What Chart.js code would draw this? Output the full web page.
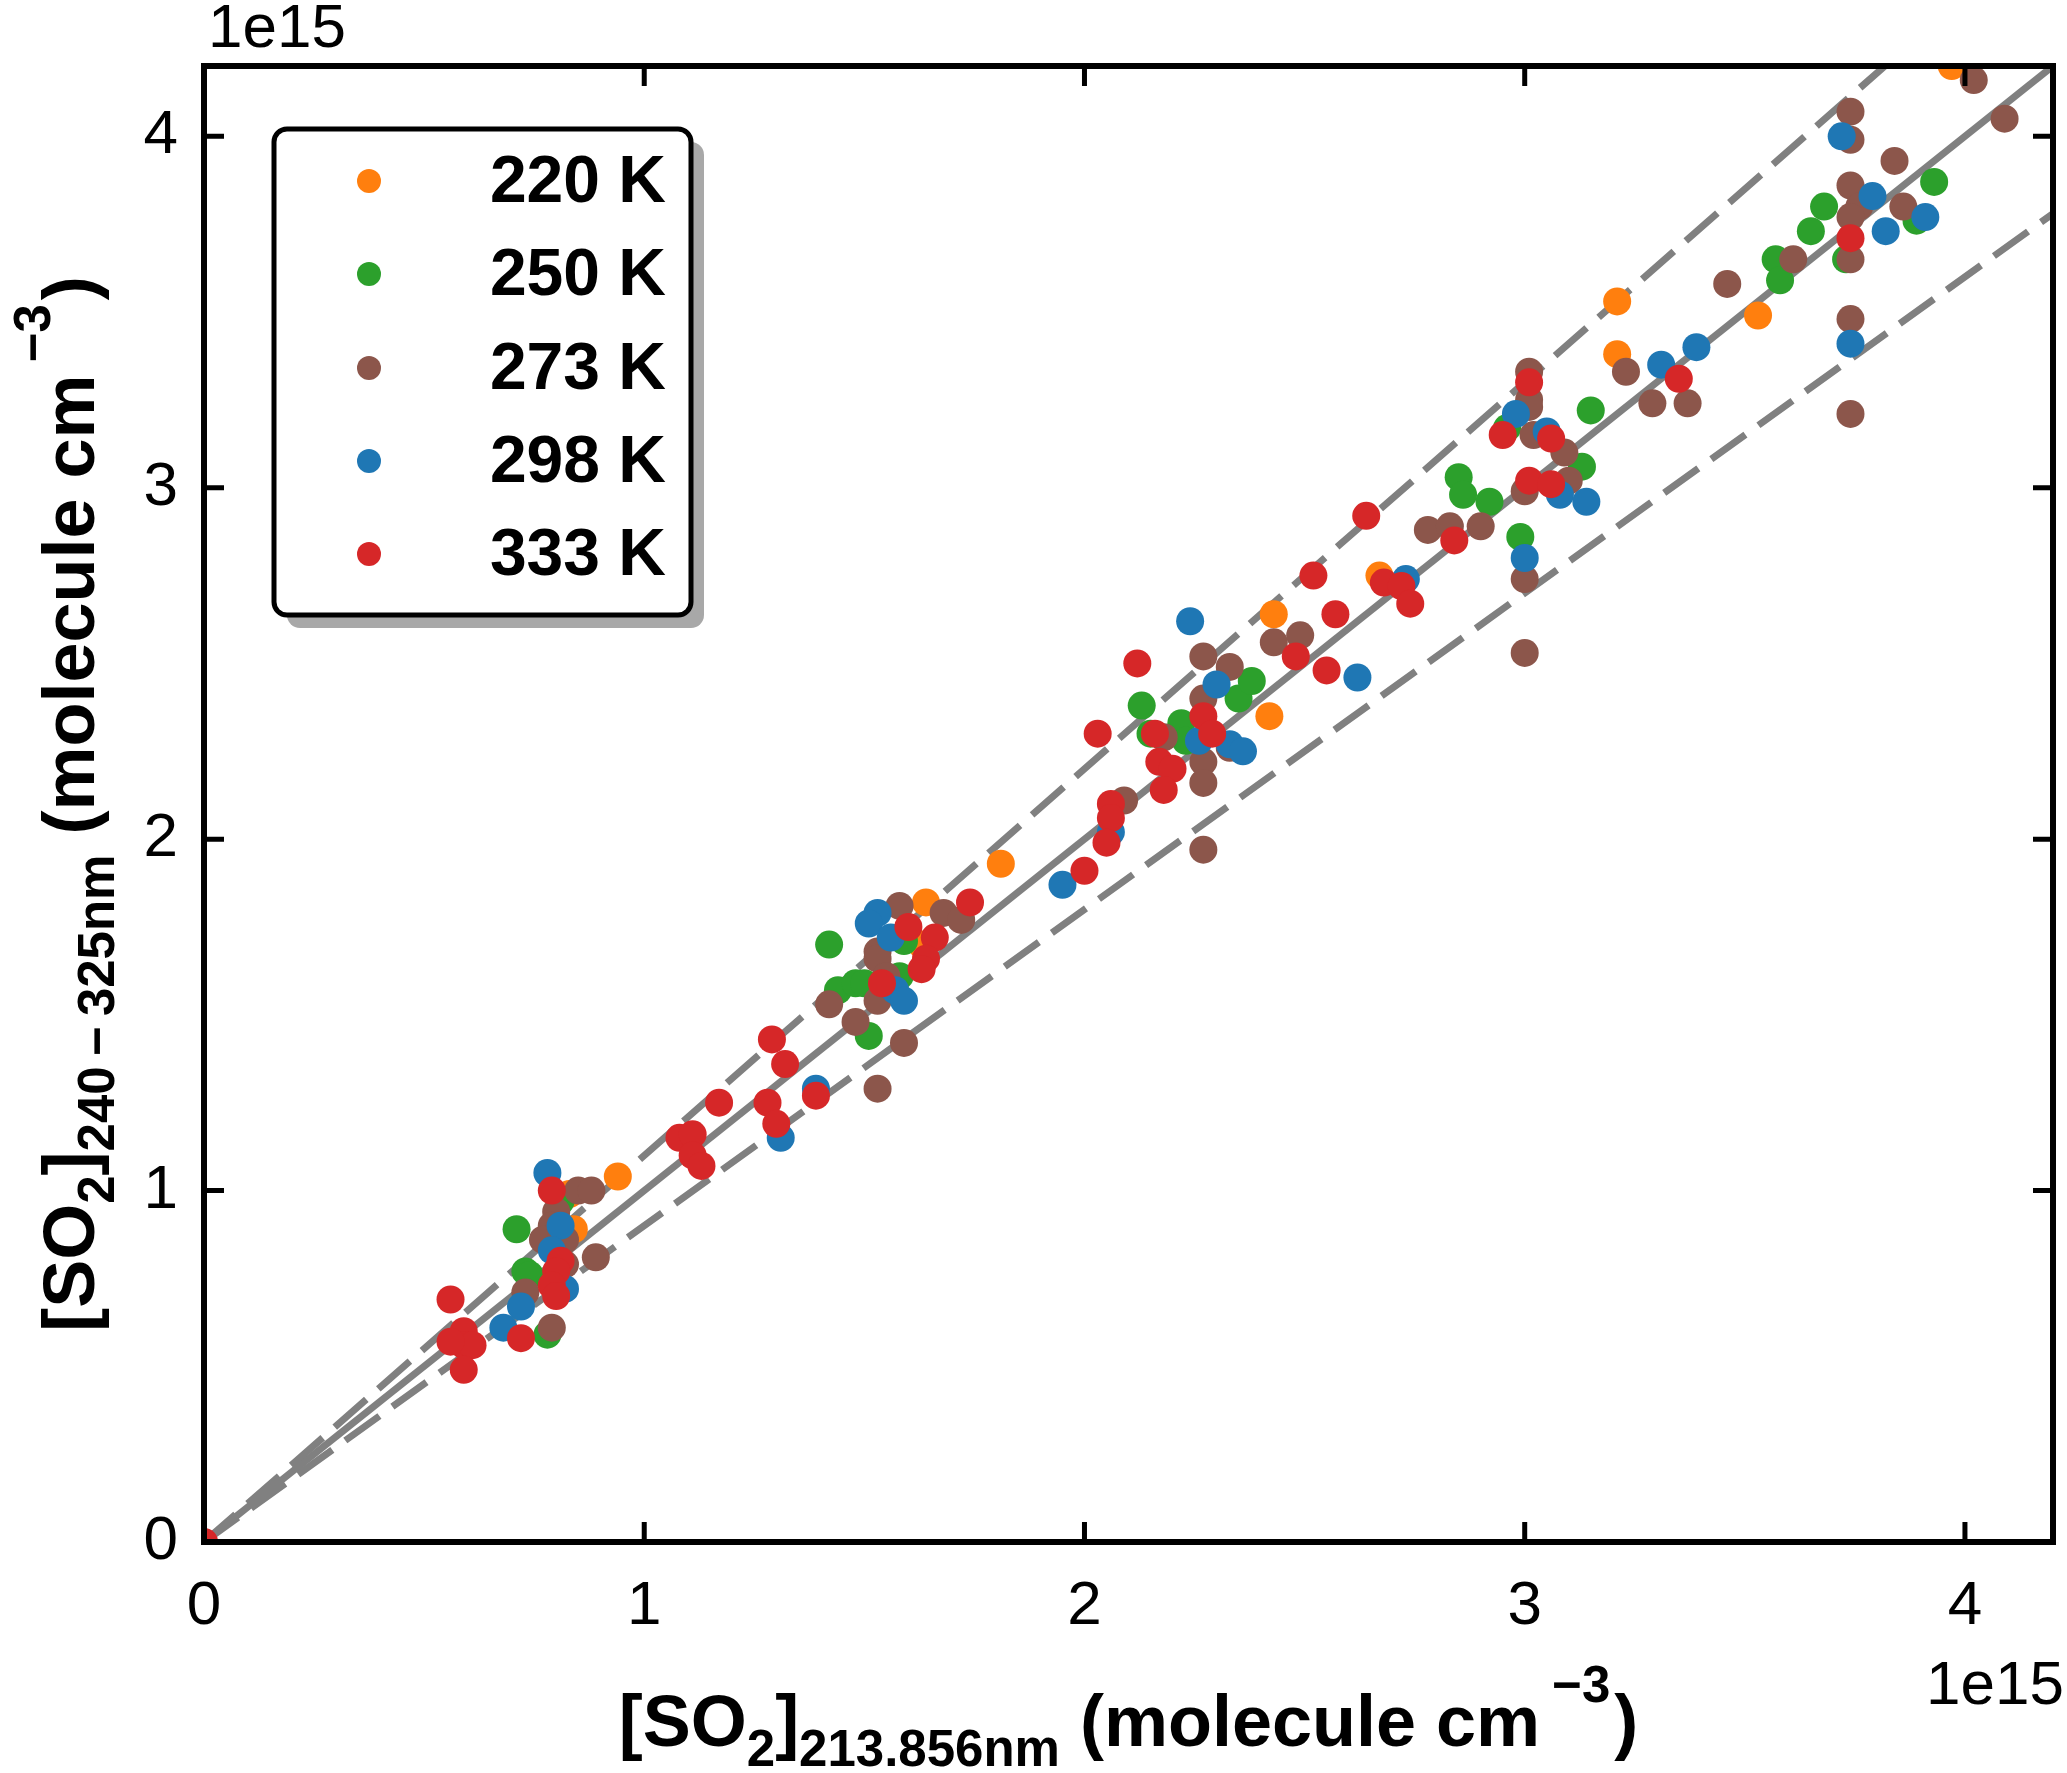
<!DOCTYPE html>
<html>
<head>
<meta charset="utf-8">
<script src="https://cdn.jsdelivr.net/npm/chart.js@4.4.1/dist/chart.umd.min.js"></script>
<style>
  html, body { margin: 0; padding: 0; background: #fff; }
  #wrap { width: 2067px; height: 1773px; position: relative; }
</style>
</head>
<body>
<div id="wrap"><canvas id="myChart"></canvas></div>
<script>
// values in units of 1e15 molecule cm-3
const xTicks = [0, 1, 2, 3, 4];
const yTicks = [0, 1, 2, 3, 4];
const temps = ['220 K', '250 K', '273 K', '298 K', '333 K'];
const colors = ['#ff7f0e', '#2ca02c', '#8c564b', '#1f77b4', '#d62728'];

const x220 = [0.94, 0.84, 0.83, 1.63, 1.64, 1.81, 2.42, 2.43, 2.67, 3.21, 3.21, 3.53, 3.97];
const y220 = [1.04, 0.89, 0.99, 1.70, 1.82, 1.93, 2.35, 2.64, 2.75, 3.38, 3.53, 3.49, 4.20];

const x250 = [0.81, 0.71, 0.73, 0.74, 0.78, 1.42, 1.44, 1.48, 1.50, 1.58, 1.59, 1.51,
  2.13, 2.15, 2.22, 2.23, 2.35, 2.38, 2.85, 2.86, 2.92, 2.96, 2.99, 3.13, 3.15,
  3.93, 3.89, 3.68, 3.65, 3.73, 3.57, 3.58];
const y250 = [0.97, 0.89, 0.77, 0.76, 0.59, 1.70, 1.57, 1.59, 1.59, 1.61, 1.71, 1.44,
  2.38, 2.30, 2.33, 2.28, 2.40, 2.45, 3.03, 2.98, 2.96, 3.17, 2.86, 3.06, 3.22,
  3.87, 3.76, 3.80, 3.73, 3.65, 3.65, 3.59];

const x273 = [0.85, 0.88, 0.80, 0.79, 0.77, 0.82, 0.89, 0.73, 0.82, 0.79,
  1.58, 1.68, 1.72, 1.53, 1.53, 1.42, 1.48, 1.53, 1.59, 1.53, 1.55,
  2.27, 2.33, 2.27, 2.43, 2.49, 2.27, 2.27, 2.09, 2.18, 2.27, 2.33,
  2.78, 2.83, 2.90, 3.01, 3.01, 3.01, 3.02, 3.09, 3.10, 3.00, 3.00, 3.00, 3.23, 3.29, 3.37,
  4.02, 4.09, 3.74, 3.74, 3.84, 3.74, 3.76, 3.74, 3.86, 3.74, 3.61, 3.74, 3.74, 3.46];
const y273 = [1.00, 1.00, 0.94, 0.90, 0.86, 0.86, 0.81, 0.71, 0.79, 0.61,
  1.81, 1.79, 1.77, 1.68, 1.66, 1.53, 1.48, 1.54, 1.42, 1.29, 1.61,
  2.52, 2.49, 2.40, 2.56, 2.58, 2.22, 2.16, 2.11, 2.29, 1.97, 2.26,
  2.88, 2.89, 2.89, 3.33, 3.25, 3.23, 3.15, 3.10, 3.02, 2.99, 2.74, 2.53, 3.33, 3.24, 3.24,
  4.16, 4.05, 4.07, 3.99, 3.93, 3.86, 3.80, 3.77, 3.80, 3.65, 3.65, 3.48, 3.21, 3.58];

const x298 = [0.78, 0.81, 0.79, 0.82, 0.72, 0.68, 1.53, 1.51, 1.56, 1.57, 1.59, 1.39, 1.31,
  2.24, 2.30, 2.26, 2.33, 2.36, 2.06, 1.95,
  2.62, 2.73, 2.98, 3.05, 3.08, 3.14, 3.00, 3.31, 3.39,
  3.72, 3.79, 3.91, 3.82, 3.74];
const y298 = [1.05, 0.90, 0.83, 0.72, 0.67, 0.61, 1.79, 1.76, 1.72, 1.57, 1.54, 1.29, 1.15,
  2.62, 2.44, 2.28, 2.27, 2.25, 2.02, 1.87,
  2.46, 2.74, 3.21, 3.16, 2.98, 2.96, 2.80, 3.35, 3.40,
  4.00, 3.83, 3.77, 3.73, 3.41];

const x333 = [0, 0.79, 0.81, 0.80, 0.79, 0.80, 0.56, 0.59, 0.59, 0.61, 0.59, 0.72, 0.56,
  1.08, 1.11, 1.11, 1.13, 1.17,
  1.74, 1.60, 1.66, 1.64, 1.63, 1.54, 1.29, 1.32, 1.39, 1.28, 1.30,
  2.12, 2.03, 2.16, 2.27, 2.29, 2.17, 2.20, 2.18, 2.06, 2.06, 2.05, 2.00,
  2.64, 2.52, 2.57, 2.48, 2.55, 2.68, 2.72, 2.74, 2.84,
  3.01, 2.95, 3.06, 3.01, 3.06, 3.35, 3.74];
const y333 = [0, 1.00, 0.80, 0.77, 0.73, 0.70, 0.69, 0.60, 0.56, 0.56, 0.49, 0.58, 0.57,
  1.15, 1.16, 1.10, 1.07, 1.25,
  1.82, 1.75, 1.72, 1.66, 1.63, 1.59, 1.43, 1.36, 1.27, 1.25, 1.19,
  2.50, 2.30, 2.30, 2.35, 2.30, 2.22, 2.20, 2.14, 2.10, 2.06, 1.99, 1.91,
  2.92, 2.75, 2.64, 2.52, 2.48, 2.73, 2.72, 2.67, 2.85,
  3.30, 3.15, 3.14, 3.02, 3.01, 3.31, 3.71];

// 1:1 line and +/-10 % lines
const lineX = [0, 4.2];
const lineFit = [0, 4.2];
const lineUpper = [0, 4.62];
const lineLower = [0, 3.78];

const FONT = '"Liberation Sans", Arial, sans-serif';
Chart.defaults.font.family = FONT;
Chart.defaults.color = '#000';

const xs = [x220, x250, x273, x298, x333];
const ys = [y220, y250, y273, y298, y333];

function pts(xa, ya) {
  return xa.map((x, i) => ({ x: x, y: ya[i] }));
}

const scatterSets = temps.map((t, i) => ({
  type: 'scatter',
  label: t,
  data: pts(xs[i], ys[i]),
  backgroundColor: colors[i],
  borderColor: colors[i],
  borderWidth: 0,
  pointRadius: 14,
  pointHoverRadius: 14,
  order: 5 - i,
  clip: 0
}));

function lineSet(yv, dash) {
  return {
    type: 'line',
    label: '',
    data: pts(lineX, yv),
    borderColor: '#808080',
    borderWidth: 7,
    borderDash: dash,
    pointRadius: 0,
    order: 10,
    clip: 0
  };
}

function richText(ctx, parts, x, y, angle) {
  ctx.save();
  ctx.translate(x, y);
  ctx.rotate(angle);
  let total = 0;
  parts.forEach(p => {
    ctx.font = 'bold ' + p.size + 'px ' + FONT;
    p.w = ctx.measureText(p.t).width + (p.pre || 0) + (p.post || 0);
    total += p.w;
  });
  let u = -total / 2;
  ctx.fillStyle = '#000';
  ctx.textAlign = 'left';
  ctx.textBaseline = 'alphabetic';
  parts.forEach(p => {
    ctx.font = 'bold ' + p.size + 'px ' + FONT;
    ctx.fillText(p.t, u + (p.pre || 0), p.dy || 0);
    u += p.w;
  });
  ctx.restore();
}

const decor = {
  id: 'decor',
  afterDatasetsDraw(chart) {
    const ctx = chart.ctx;
    const a = chart.chartArea;
    const sx = chart.scales.x, sy = chart.scales.y;
    ctx.save();
    ctx.strokeStyle = '#000';
    // inward ticks on all four sides
    ctx.lineWidth = 5;
    ctx.beginPath();
    xTicks.forEach(v => {
      const px = sx.getPixelForValue(v);
      if (px > a.left + 3) {
        ctx.moveTo(px, a.bottom); ctx.lineTo(px, a.bottom - 20);
        ctx.moveTo(px, a.top); ctx.lineTo(px, a.top + 20);
      }
    });
    yTicks.forEach(v => {
      const py = sy.getPixelForValue(v);
      if (py < a.bottom - 3) {
        ctx.moveTo(a.left, py); ctx.lineTo(a.left + 20, py);
        ctx.moveTo(a.right, py); ctx.lineTo(a.right - 20, py);
      }
    });
    ctx.stroke();
    // frame
    ctx.lineWidth = 6;
    ctx.strokeRect(a.left, a.top, a.right - a.left, a.bottom - a.top);
    // offset labels
    ctx.fillStyle = '#000';
    ctx.font = '62px ' + FONT;
    ctx.textBaseline = 'alphabetic';
    ctx.textAlign = 'left';
    ctx.fillText('1e15', a.left + 4, 47);
    ctx.textAlign = 'right';
    ctx.fillText('1e15', 2064, 1704);
    ctx.restore();

    // axis titles
    const M = 72, S = 51;
    richText(ctx, [
      { t: '[SO', size: M }, { t: '2', size: S, dy: 20 }, { t: ']', size: M },
      { t: '213.856nm', size: S, dy: 20 }, { t: ' (molecule cm', size: M },
      { t: '\u22123', size: S, dy: -44, pre: 12, post: 4 }, { t: ')', size: M }
    ], (a.left + a.right) / 2, 1746, 0);
    richText(ctx, [
      { t: '[SO', size: M }, { t: '2', size: S, dy: 20 }, { t: ']', size: M },
      { t: '240\u2009\u2212\u2009325nm', size: S, dy: 20 }, { t: ' (molecule cm', size: M },
      { t: '\u22123', size: S, dy: -44, pre: 12, post: 4 }, { t: ')', size: M }
    ], 94, (a.top + a.bottom) / 2, -Math.PI / 2);
  },
  afterDraw(chart) {
    // legend box with shadow
    const ctx = chart.ctx;
    const L = 274, T = 129, R = 691, B = 615, rad = 13;
    ctx.save();
    ctx.fillStyle = '#a8a8a8';
    ctx.beginPath();
    ctx.roundRect(L + 13, T + 13, R - L, B - T, rad);
    ctx.fill();
    ctx.fillStyle = '#fff';
    ctx.strokeStyle = '#000';
    ctx.lineWidth = 5;
    ctx.beginPath();
    ctx.roundRect(L, T, R - L, B - T, rad);
    ctx.fill();
    ctx.stroke();
    const rows = [181, 274, 368, 461, 554];
    ctx.font = 'bold 66px ' + FONT;
    ctx.textAlign = 'right';
    ctx.textBaseline = 'middle';
    temps.forEach((t, i) => {
      ctx.fillStyle = colors[i];
      ctx.beginPath();
      ctx.arc(369, rows[i], 12, 0, Math.PI * 2);
      ctx.fill();
      ctx.fillStyle = '#000';
      ctx.fillText(t, 666, rows[i] + 3);
    });
    ctx.restore();
  }
};

const config = {
  data: {
    datasets: [
      ...scatterSets,
      lineSet(lineFit, []),
      lineSet(lineUpper, [42, 16]),
      lineSet(lineLower, [42, 16])
    ]
  },
  options: {
    responsive: true,
    maintainAspectRatio: false,
    animation: false,
    events: [],
    layout: { padding: { left: 0, right: 7, top: 66, bottom: 0 } },
    plugins: { legend: { display: false }, tooltip: { enabled: false } },
    scales: {
      x: {
        type: 'linear',
        position: 'bottom',
        min: 0,
        max: 4.2,
        grid: { display: false, drawTicks: false },
        border: { display: false },
        ticks: { font: { size: 62 }, color: '#000', padding: 28, maxRotation: 0 },
        afterBuildTicks: s => { s.ticks = xTicks.map(v => ({ value: v })); },
        afterFit: s => { s.height = 231; }
      },
      y: {
        type: 'linear',
        position: 'left',
        min: 0,
        max: 4.2,
        grid: { display: false, drawTicks: false },
        border: { display: false },
        ticks: { font: { size: 62 }, color: '#000', padding: 26 },
        afterBuildTicks: s => { s.ticks = yTicks.map(v => ({ value: v })); },
        afterFit: s => { s.width = 204; }
      }
    }
  },
  plugins: [decor]
};

const myChart = new Chart(document.getElementById('myChart'), config);
</script>
</body>
</html>
